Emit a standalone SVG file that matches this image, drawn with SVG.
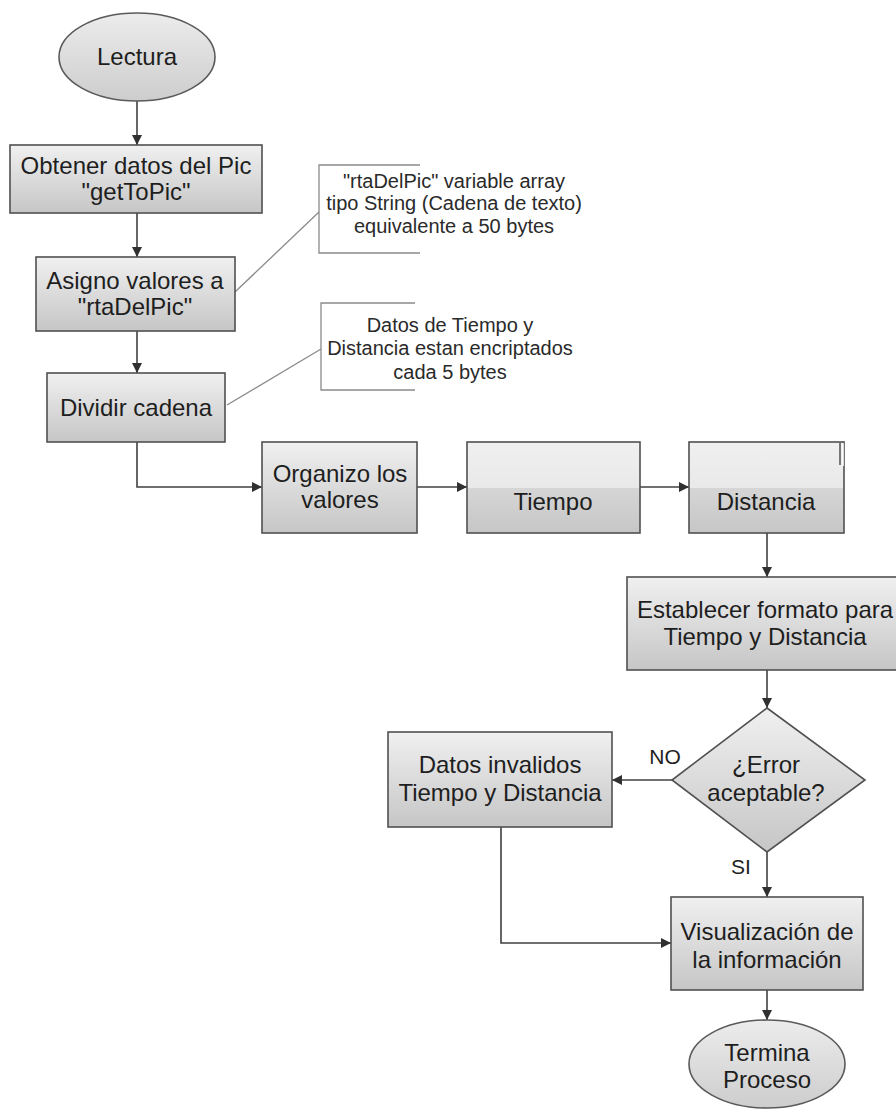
<svg xmlns="http://www.w3.org/2000/svg" width="896" height="1109" viewBox="0 0 896 1109">
  <style>
    .box { stroke: #505050; stroke-width: 1.6; fill: url(#boxFill); }
    .step { stroke: #505050; stroke-width: 1.6; fill: url(#stepFill); }
    .term { stroke: #5a5a5a; stroke-width: 1.6; fill: url(#termFill); }
    .lbl { font-family: "Liberation Sans", Arial, sans-serif; font-size: 24px; fill: #1e1e1e; text-anchor: middle; }
    .note { font-family: "Liberation Sans", Arial, sans-serif; font-size: 20px; fill: #2a2a2a; text-anchor: middle; }
    .edge { fill: none; stroke: #404040; stroke-width: 1.6; }
    .lead { fill: none; stroke: #8a8a8a; stroke-width: 1.3; }
    .tag { font-family: "Liberation Sans", Arial, sans-serif; font-size: 21px; fill: #1e1e1e; text-anchor: middle; }
  </style>
  <defs>
    <linearGradient id="boxFill" x1="0" y1="0" x2="0" y2="1">
      <stop offset="0" stop-color="#f0f0f0"/>
      <stop offset="1" stop-color="#c6c6c6"/>
    </linearGradient>
    <linearGradient id="stepFill" x1="0" y1="0" x2="0" y2="1">
      <stop offset="0" stop-color="#f0f0f0"/>
      <stop offset="0.5" stop-color="#e9e9e9"/>
      <stop offset="0.5" stop-color="#d6d6d6"/>
      <stop offset="1" stop-color="#c6c6c6"/>
    </linearGradient>
    <linearGradient id="termFill" x1="0" y1="0" x2="0" y2="1">
      <stop offset="0" stop-color="#ececec"/>
      <stop offset="1" stop-color="#cdcdcd"/>
    </linearGradient>
    <marker id="arrow" viewBox="0 0 10 10" refX="10" refY="5" markerWidth="10" markerHeight="10" markerUnits="userSpaceOnUse" orient="auto">
      <path d="M0,0 L10,5 L0,10 z" fill="#303030"/>
    </marker>
  </defs>

  <rect width="896" height="1109" fill="#ffffff"/>

  <!-- connectors -->
  <g id="connectors">
    <path class="edge" d="M137,101 V145" marker-end="url(#arrow)"/>
    <path class="edge" d="M137,213 V257" marker-end="url(#arrow)"/>
    <path class="edge" d="M137,331 V373" marker-end="url(#arrow)"/>
    <path class="edge" d="M137,442 V487 H262" marker-end="url(#arrow)"/>
    <path class="edge" d="M417,487 H467" marker-end="url(#arrow)"/>
    <path class="edge" d="M640,487 H689" marker-end="url(#arrow)"/>
    <path class="edge" d="M767,533 V577" marker-end="url(#arrow)"/>
    <path class="edge" d="M767,670 V708" marker-end="url(#arrow)"/>
    <path class="edge" d="M672,780 H612" marker-end="url(#arrow)"/>
    <path class="edge" d="M767,852 V897" marker-end="url(#arrow)"/>
    <path class="edge" d="M501,827 V943 H671" marker-end="url(#arrow)"/>
    <path class="edge" d="M767,990 V1020" marker-end="url(#arrow)"/>
    <text class="tag" x="665" y="764">NO</text>
    <text class="tag" x="741" y="874">SI</text>
  </g>

  <!-- annotations -->
  <g id="note-rtaDelPic">
    <path class="lead" d="M235,292 L319,212"/>
    <path class="lead" d="M420,165 H319 V253 H420"/>
    <text class="note" x="454" y="188">"rtaDelPic" variable array</text>
    <text class="note" x="454" y="210">tipo String (Cadena de texto)</text>
    <text class="note" x="454" y="233">equivalente a 50 bytes</text>
  </g>
  <g id="note-cadena">
    <path class="lead" d="M227,405 L321,349"/>
    <path class="lead" d="M415,303 H321 V390 H415"/>
    <text class="note" x="450" y="332">Datos de Tiempo y</text>
    <text class="note" x="450" y="355">Distancia estan encriptados</text>
    <text class="note" x="450" y="379">cada 5 bytes</text>
  </g>

  <!-- nodes -->
  <g id="lectura">
    <ellipse class="term" cx="137" cy="57" rx="78" ry="44"/>
    <text class="lbl" x="137" y="65">Lectura</text>
  </g>
  <g id="obtener">
    <rect class="box" x="10" y="145" width="252" height="68"/>
    <text class="lbl" x="136" y="174">Obtener datos del Pic</text>
    <text class="lbl" x="136" y="200">"getToPic"</text>
  </g>
  <g id="asigno">
    <rect class="box" x="36" y="257" width="199" height="74"/>
    <text class="lbl" x="135" y="289">Asigno valores a</text>
    <text class="lbl" x="135" y="315">"rtaDelPic"</text>
  </g>
  <g id="dividir">
    <rect class="box" x="47" y="373" width="178" height="69"/>
    <text class="lbl" x="136" y="416">Dividir cadena</text>
  </g>
  <g id="organizo">
    <rect class="box" x="262" y="442" width="155" height="91"/>
    <text class="lbl" x="340" y="482">Organizo los</text>
    <text class="lbl" x="340" y="508">valores</text>
  </g>
  <g id="tiempo">
    <rect class="step" x="467" y="442" width="173" height="91"/>
    <text class="lbl" x="553" y="510">Tiempo</text>
  </g>
  <g id="distancia">
    <rect class="step" x="689" y="442" width="155" height="91"/>
    <line x1="840" y1="443" x2="840" y2="465" stroke="#505050" stroke-width="1.5"/>
    <line x1="843" y1="443" x2="843" y2="466" stroke="#ffffff" stroke-width="1.5"/>
    <text class="lbl" x="766" y="510">Distancia</text>
  </g>
  <g id="formato">
    <rect class="box" x="627" y="577" width="280" height="93"/>
    <text class="lbl" x="765" y="618">Establecer formato para</text>
    <text class="lbl" x="765" y="645">Tiempo y Distancia</text>
  </g>
  <g id="decision">
    <polygon class="box" points="767,708 865,780 767,852 672,780"/>
    <text class="lbl" x="766" y="773">¿Error</text>
    <text class="lbl" x="766" y="801">aceptable?</text>
  </g>
  <g id="invalidos">
    <rect class="box" x="388" y="732" width="224" height="95"/>
    <text class="lbl" x="500" y="773">Datos invalidos</text>
    <text class="lbl" x="500" y="801">Tiempo y Distancia</text>
  </g>
  <g id="visualizacion">
    <rect class="box" x="671" y="897" width="192" height="93"/>
    <text class="lbl" x="767" y="940">Visualización de</text>
    <text class="lbl" x="767" y="968">la información</text>
  </g>
  <g id="termina">
    <ellipse class="term" cx="767" cy="1064" rx="78" ry="44"/>
    <text class="lbl" x="767" y="1061">Termina</text>
    <text class="lbl" x="767" y="1088">Proceso</text>
  </g>
</svg>
